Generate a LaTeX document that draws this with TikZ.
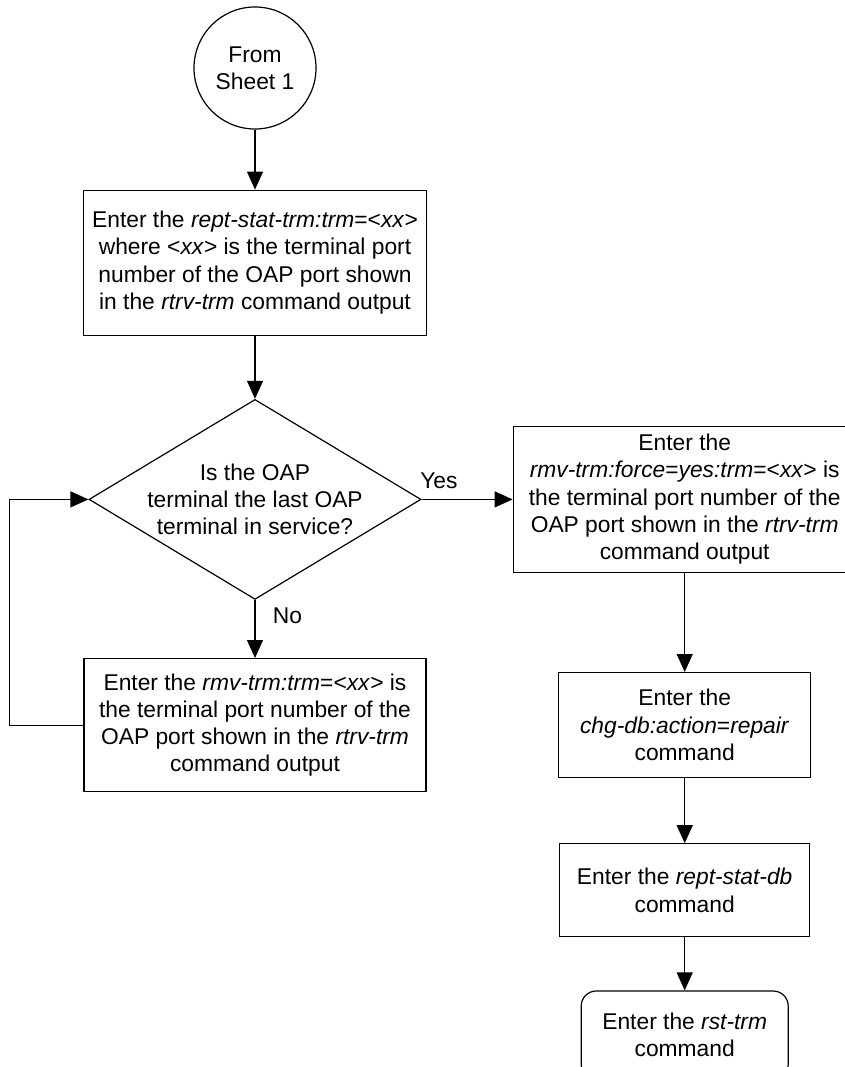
\documentclass[tikz,border=0pt]{standalone}
\usepackage{fontspec}
\setmainfont{Liberation Sans}
\usepackage{tikz}
\usetikzlibrary{positioning, shapes.geometric, arrows.meta}

\begin{document}
\begin{tikzpicture}[>={Triangle[length=18pt, width=16pt]}, line width=1.2pt, every node/.style={font=\fontsize{22.8pt}{27.3pt}\selectfont, align=center}]
\tikzset{
  procbox/.style={draw, rectangle, inner sep=0pt},
  decide/.style={draw, diamond, inner xsep=-50pt, inner ysep=0pt, minimum width=332pt, minimum height=200pt},
  offpage/.style={draw, circle, inner sep=0pt, minimum size=122pt},
  endbox/.style={draw, rectangle, rounded corners=15pt, inner sep=0pt},
  flow/.style={->, line width=1.2pt}
}
\useasboundingbox (0,0) rectangle (844pt,-1067pt);

% Entry
\node[offpage] (sheet) at (255pt,-68pt) {From\\Sheet 1};

% Left column
\node[procbox, below=60pt of sheet, minimum width=343pt, minimum height=145pt] (reptstat) {Enter the \textit{rept-stat-trm:trm}=<\textit{xx}>\\where <\textit{xx}> is the terminal port\\number of the OAP port shown\\in the \textit{rtrv-trm} command output};
\node[decide, below=63pt of reptstat] (lastoap) {Is the OAP\\terminal the last OAP\\terminal in service?};
\node[procbox, below=58pt of lastoap, minimum width=342pt, minimum height=133pt] (rmvtrm) {Enter the \textit{rmv-trm:trm}=<\textit{xx}> is\\the terminal port number of the\\OAP port shown in the \textit{rtrv-trm}\\command output};

% Right column
\node[procbox, right=91pt of lastoap, minimum width=343pt, minimum height=146pt] (rmvforce) {Enter the\\\textit{rmv-trm:force}=\textit{yes:trm}=<\textit{xx}> is\\the terminal port number of the\\OAP port shown in the \textit{rtrv-trm}\\command output};
\node[procbox, below=99pt of rmvforce, minimum width=252pt, minimum height=105pt] (chgdb) {Enter the\\\textit{chg-db:action}=\textit{repair}\\command};
\node[procbox, below=65pt of chgdb, minimum width=250pt, minimum height=93pt] (reptdb) {Enter the \textit{rept-stat-db}\\command};
\node[endbox, below=53pt of reptdb, minimum width=207pt, minimum height=88pt] (rsttrm) {Enter the \textit{rst-trm}\\command};

% Connections
\draw[flow] (sheet) -- (reptstat);
\draw[flow] (reptstat) -- (lastoap);
\draw[flow] (lastoap) -- node[pos=0.28, right=14pt] {No} (rmvtrm);
\draw[flow] (lastoap) -- node[pos=0.19, above=7pt] {Yes} (rmvforce);
\draw[flow] (rmvtrm.west) -- ++(-74pt,0) |- (lastoap.west);
\draw[flow] (rmvforce) -- (chgdb);
\draw[flow] (chgdb) -- (reptdb);
\draw[flow] (reptdb) -- (rsttrm);
\end{tikzpicture}
\end{document}
